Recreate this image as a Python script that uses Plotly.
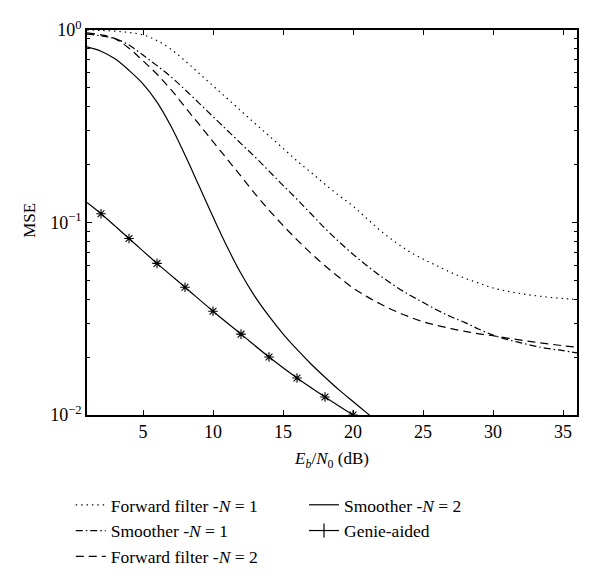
import plotly.graph_objects as go

x_all = list(range(1, 37))

ff1 = [1.0, 0.9954, 0.9863, 0.9705, 0.944, 0.881, 0.794, 0.692, 0.596, 0.513,
       0.442, 0.380, 0.327, 0.282, 0.243, 0.209, 0.182, 0.158, 0.138, 0.1216,
       0.1047, 0.0902, 0.0794, 0.0708, 0.0646, 0.0596, 0.0550, 0.0513, 0.0484,
       0.0457, 0.0440, 0.0427, 0.0417, 0.0409, 0.0403, 0.0398]

sm1 = [0.951, 0.933, 0.902, 0.836, 0.741, 0.653, 0.571, 0.490, 0.417, 0.355,
       0.302, 0.257, 0.219, 0.185, 0.156, 0.132, 0.111, 0.0933, 0.0794, 0.0684,
       0.0596, 0.0525, 0.0468, 0.0422, 0.0385, 0.0351, 0.0324, 0.0302, 0.0279,
       0.0260, 0.0247, 0.0237, 0.0228, 0.0221, 0.0216, 0.0210]

ff2 = [0.966, 0.944, 0.902, 0.804, 0.692, 0.589, 0.490, 0.398, 0.324, 0.263,
       0.214, 0.174, 0.141, 0.116, 0.0966, 0.0813, 0.0692, 0.0596, 0.0519, 0.0457,
       0.0412, 0.0376, 0.0347, 0.0324, 0.0305, 0.0292, 0.0281, 0.0272, 0.0264,
       0.0258, 0.0251, 0.0245, 0.0239, 0.0234, 0.0229, 0.0225]

x_sm2 = list(range(1, 23))
sm2 = [0.817, 0.776, 0.708, 0.617, 0.525, 0.422, 0.316, 0.224, 0.155, 0.107,
       0.075, 0.0543, 0.0412, 0.0326, 0.0264, 0.0219, 0.0184, 0.0157, 0.0135,
       0.01175, 0.01023, 0.0089]

x_genie = [1, 2, 4, 6, 8, 10, 12, 14, 16, 18, 20]
genie = [0.127, 0.111, 0.0826, 0.0613, 0.0461, 0.0346, 0.0263, 0.02, 0.01556,
         0.0124, 0.01]

FONT = "Liberation Serif, Times New Roman, serif"
lw = 1.2

fig = go.Figure()
fig.add_trace(go.Scatter(x=x_all, y=ff1, mode="lines", name="Forward filter -<i>N</i> = 1",
                         line=dict(color="black", width=lw, dash="1.4px,4px", shape="spline"),
                         legend="legend"))
fig.add_trace(go.Scatter(x=x_all, y=sm1, mode="lines", name="Smoother -<i>N</i> = 1",
                         line=dict(color="black", width=lw, dash="7px,3px,1.5px,3px",
                                   shape="spline"),
                         legend="legend"))
fig.add_trace(go.Scatter(x=x_all, y=ff2, mode="lines", name="Forward filter -<i>N</i> = 2",
                         line=dict(color="black", width=lw, dash="8px,5px", shape="spline"),
                         legend="legend"))
fig.add_trace(go.Scatter(x=x_sm2, y=sm2, mode="lines", name="Smoother -<i>N</i> = 2",
                         line=dict(color="black", width=lw, shape="spline"),
                         legend="legend2"))
fig.add_trace(go.Scatter(x=x_genie, y=genie, mode="lines", showlegend=False,
                         line=dict(color="black", width=lw, shape="spline")))
fig.add_trace(go.Scatter(x=x_genie[1:], y=genie[1:], mode="markers", name="Genie-aided",
                         marker=dict(symbol="asterisk-open", size=8, color="black",
                                     line=dict(color="black", width=1.1)),
                         legend="legend2", showlegend=False))
fig.add_trace(go.Scatter(x=[None], y=[None], mode="lines+markers", name="Genie-aided",
                         line=dict(color="black", width=lw),
                         marker=dict(symbol="line-ns-open", size=10, color="black",
                                     line=dict(color="black", width=1.2)),
                         legend="legend2"))

fig.update_layout(
    width=592, height=577,
    margin=dict(l=79, r=23, t=22, b=170, autoexpand=False),
    paper_bgcolor="white", plot_bgcolor="white",
    font=dict(family=FONT, size=18, color="black"),
    xaxis=dict(range=[1, 36], tickvals=[5, 10, 15, 20, 25, 30, 35],
               ticks="inside", ticklen=5, tickwidth=1, tickcolor="black",
               showline=True, linecolor="black", linewidth=1.5, mirror="ticks",
               showgrid=False, zeroline=False, tickfont=dict(size=18),
               title=dict(text="<i>E</i><sub><i>b</i></sub>/<i>N</i><sub>0</sub> (dB)",
                          standoff=11, font=dict(size=17))),
    yaxis=dict(type="log", range=[-2, 0],
               tickvals=[0.01, 0.1, 1],
               ticktext=["10<sup>−2</sup>", "10<sup>−1</sup>", "10<sup>0</sup>"],
               ticks="inside", ticklen=5, tickwidth=1, tickcolor="black",
               minor=dict(ticks="inside", ticklen=3, tickcolor="black",
                          tickvals=[k * 10 ** e for e in (-2, -1) for k in range(2, 10)]),
               showline=True, linecolor="black", linewidth=1.5, mirror="ticks",
               showgrid=False, zeroline=False, tickfont=dict(size=18)),
    annotations=[dict(text="MSE", xref="paper", yref="paper", x=-0.118, y=0.505,
                      xanchor="center", yanchor="middle", textangle=-90,
                      showarrow=False, font=dict(size=17))],
    legend=dict(xref="container", yref="container", x=0.106, y=0.170,
                xanchor="left", yanchor="top",
                bgcolor="rgba(0,0,0,0)", font=dict(size=17.5), tracegroupgap=0),
    legend2=dict(xref="container", yref="container", x=0.500, y=0.170,
                 xanchor="left", yanchor="top",
                 bgcolor="rgba(0,0,0,0)", font=dict(size=17.5), tracegroupgap=0),
)

fig.write_html("out.html")
